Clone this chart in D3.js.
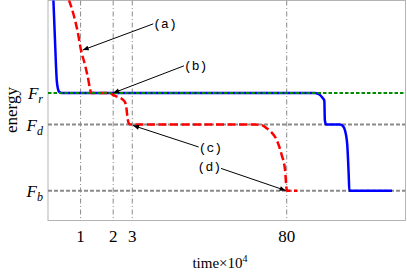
<!DOCTYPE html>
<html>
<head>
<meta charset="utf-8">
<script src="https://cdnjs.cloudflare.com/ajax/libs/d3/7.8.5/d3.min.js"></script>
<style>
  html, body { margin: 0; padding: 0; background: white; }
  svg { display: block; }
</style>
</head>
<body>
<div id="chart"></div>
<script>
// time in units of 10^4, energy in arbitrary units
var levelNames = ["r", "d", "b"];
var levelValues = [4.1, 3.1, 1.0];
var tickTimes = [1, 2, 3, 80];
var tickLabels = ["1", "2", "3", "80"];

// solid blue run
var blueRun = [
    [0.56, 7.1], [0.58, 5.78], [0.602, 4.51], [0.618, 4.23], [0.636, 4.13],
    [0.669, 4.1], [146, 4.1], [162, 4.04], [172, 3.94], [178, 3.86],
    [180, 3.24], [184.6, 3.1], [248, 3.1], [266, 3.04], [276, 2.92],
    [284, 2.72], [290, 2.45], [299, 1.5], [303, 1.0], [750, 1.0]
];

// dashed red run
var redRun = [
    [0.78, 7.05], [0.888, 6.41], [0.952, 5.94], [1.0, 5.52], [1.1, 4.98],
    [1.18, 4.51], [1.22, 4.23], [1.26, 4.1], [1.87, 4.1], [2.01, 4.03],
    [2.21, 3.97], [2.41, 3.91], [2.57, 3.81], [2.65, 3.62], [2.71, 3.31],
    [2.8, 3.13], [2.92, 3.1], [40.8, 3.1], [47.3, 3.08], [52.3, 2.98],
    [57.3, 2.87], [64.7, 2.61], [72.0, 2.13], [77.2, 1.66], [80.0, 1.03],
    [80.5, 1.0], [99.6, 1.0]
];

// annotations: arrow tip and where the leader starts
var noteLabels = ["(a)", "(b)", "(c)", "(d)"];
var noteTips = [[1.046, 5.46], [2.0, 4.1], [3.05, 3.07], [78.3, 1.01]];
var noteStarts = [[4.69, 6.29], [9.0, 4.96], [12.3, 2.39], [19.8, 1.71]];

var W = 407, H = 273;
var mLeft = 48, mRight = 405.5, mTop = 0.5, mBottom = 220.5;

var svg = d3.select("#chart").append("svg")
    .attr("width", W)
    .attr("height", H);

var x = d3.scaleLog().domain([0.5, 1000]).range([mLeft, mRight]);
var y = d3.scaleLinear().domain([0.06, 7.03]).range([mBottom, mTop]);

var defs = svg.append("defs");
defs.append("clipPath")
    .attr("id", "plotclip")
    .append("rect")
    .attr("x", mLeft).attr("y", mTop)
    .attr("width", mRight - mLeft).attr("height", mBottom - mTop);

var marker = defs.append("marker")
    .attr("id", "arrow")
    .attr("viewBox", "0 0 10 10")
    .attr("refX", 10).attr("refY", 5)
    .attr("markerUnits", "userSpaceOnUse")
    .attr("markerWidth", 8).attr("markerHeight", 6)
    .attr("orient", "auto");
marker.append("path")
    .attr("d", "M0,1 L10,5 L0,9 Z")
    .attr("fill", "black");

// frame
svg.append("rect")
    .attr("x", mLeft).attr("y", mTop)
    .attr("width", mRight - mLeft).attr("height", mBottom - mTop)
    .attr("fill", "none")
    .attr("stroke", "#b4b4b4")
    .attr("stroke-width", 1);

var plot = svg.append("g").attr("clip-path", "url(#plotclip)");

// vertical dash-dot markers
plot.selectAll(".vline").data(tickTimes).enter().append("line")
    .attr("x1", d => x(d)).attr("x2", d => x(d))
    .attr("y1", mTop).attr("y2", mBottom)
    .attr("stroke", "#8a8a8a")
    .attr("stroke-width", 1)
    .attr("stroke-dasharray", "5,2.5,1,2.5");

// grey level lines (d and b)
plot.selectAll(".hline").data(levelValues.slice(1)).enter().append("line")
    .attr("x1", mLeft).attr("x2", mRight)
    .attr("y1", d => y(d)).attr("y2", d => y(d))
    .attr("stroke", "#8a8a8a")
    .attr("stroke-width", 2)
    .attr("stroke-dasharray", "4,2");

var line = d3.line()
    .x(d => x(d[0]))
    .y(d => y(d[1]))
    .curve(d3.curveMonotoneX);

plot.append("path")
    .datum(blueRun)
    .attr("d", line)
    .attr("fill", "none")
    .attr("stroke", "#0000ff")
    .attr("stroke-width", 2.5);

plot.append("path")
    .datum(redRun)
    .attr("d", line)
    .attr("fill", "none")
    .attr("stroke", "#ff0000")
    .attr("stroke-width", 2.5)
    .attr("stroke-dasharray", "8,3.5");

// green dotted line at F_r, on top
plot.append("line")
    .attr("x1", mLeft).attr("x2", mRight)
    .attr("y1", y(levelValues[0])).attr("y2", y(levelValues[0]))
    .attr("stroke", "#008c00")
    .attr("stroke-width", 2)
    .attr("stroke-dasharray", "3.5,2");

// x tick labels
svg.selectAll(".xt").data(tickTimes).enter().append("text")
    .attr("x", d => x(d))
    .attr("y", 242)
    .attr("text-anchor", "middle")
    .attr("font-family", "'Liberation Serif', serif")
    .attr("font-size", 17)
    .text((d, i) => tickLabels[i]);

// x label
var xl = svg.append("text")
    .attr("x", 220)
    .attr("y", 268)
    .attr("text-anchor", "middle")
    .attr("font-family", "'Liberation Serif', serif")
    .attr("font-size", 15);
xl.append("tspan").text("time\u00d710");
xl.append("tspan").attr("font-size", 10).attr("dy", -6).text("4");

// y level labels
levelValues.forEach(function (v, i) {
    var t = svg.append("text")
        .attr("x", 43)
        .attr("y", y(v) + 6)
        .attr("text-anchor", "end")
        .attr("font-family", "'Liberation Serif', serif")
        .attr("font-style", "italic")
        .attr("font-size", 17);
    t.append("tspan").text("F");
    t.append("tspan").attr("font-size", 12).attr("dy", 4).text(levelNames[i]);
});

// y label
svg.append("text")
    .attr("transform", "translate(17,110) rotate(-90)")
    .attr("text-anchor", "middle")
    .attr("font-family", "'Liberation Serif', serif")
    .attr("font-size", 17)
    .text("energy");

// annotations
var textOff = [[0, 4], [0, 4], [0, 5], [0, 3]];
var textAnchor = ["start", "start", "start", "end"];
noteLabels.forEach(function (lab, i) {
    var s = noteStarts[i], e = noteTips[i];
    svg.append("line")
        .attr("x1", x(s[0])).attr("y1", y(s[1]))
        .attr("x2", x(e[0])).attr("y2", y(e[1]))
        .attr("stroke", "black")
        .attr("stroke-width", 1)
        .attr("marker-end", "url(#arrow)");
    svg.append("text")
        .attr("x", x(s[0]) + textOff[i][0])
        .attr("y", y(s[1]) + textOff[i][1])
        .attr("text-anchor", textAnchor[i])
        .attr("font-family", "'Liberation Mono', monospace")
        .attr("font-size", 13)
        .text(lab);
});
</script>
</body>
</html>
